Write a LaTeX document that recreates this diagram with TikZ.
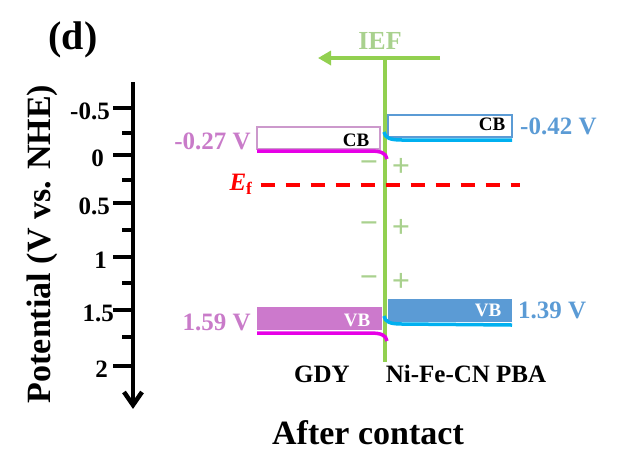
\documentclass[tikz,border=0pt]{standalone}
\usepackage{fontspec}
\setmainfont{Liberation Serif}
\usetikzlibrary{arrows.meta, positioning}
\definecolor{iefGreen}{HTML}{92D050}
\definecolor{iefLight}{HTML}{A9D18E}
\definecolor{gdyText}{HTML}{C97BC9}
\definecolor{gdyFill}{HTML}{CC79CC}
\definecolor{gdyEdge}{HTML}{CC99CC}
\definecolor{gdyLine}{HTML}{E600E6}
\definecolor{pbaBlue}{HTML}{5B9BD5}
\definecolor{pbaLine}{HTML}{00B0F0}
\definecolor{fermiRed}{HTML}{FF0000}
\newcommand{\bfsize}[1]{\fontsize{#1}{#1}\selectfont\bfseries}

\begin{document}
\begin{tikzpicture}[x=1pt, y=-1pt,
    axisline/.style={line width=4.5pt},
    majortick/.style={line width=4pt},
    minortick/.style={line width=4pt},
    ticklab/.style={font=\bfsize{25pt}, inner sep=0pt, anchor=east},
    bandbox/.style={inner sep=0pt, outer sep=0pt, line width=1.2pt, anchor=north west},
    bandtxt/.style={font=\bfsize{19pt}, inner sep=0pt},
    vallab/.style={font=\bfsize{25pt}, inner sep=0pt},
    bendline/.style={line width=3.5pt},
    signlab/.style={font=\bfsize{32pt}, text=iefLight, inner sep=0pt},
    matlab/.style={font=\bfsize{25pt}, inner sep=0pt}
  ]
  \useasboundingbox (0,0) rectangle (617,472);

  % potential axis
  \coordinate (axtop) at (133,82);
  \coordinate (axbot) at (133,405);
  \draw[axisline] (axtop) -- (axbot);
  \draw[axisline, line join=miter] ([shift={(-9,-13)}]axbot) -- (axbot) -- ([shift={(9,-13)}]axbot);
  \foreach \lab/\ty/\lx [count=\i] in {-0.5/108/110, 0/155/104, 0.5/203/110, 1/257/107, 1.5/310/114, 2/366/108} {
    \draw[majortick] (113,\ty) -- (133,\ty);
    \node[ticklab] (tick\i) at (\lx,\ty+3) {\lab};
  }
  \foreach \ty in {133,180,230,283,337}
    \draw[minortick] (122,\ty) -- (133,\ty);
  \node[rotate=90, font=\bfsize{34pt}, inner sep=0pt] (ylab) at (42,244) {Potential (V vs. NHE)};
  \node[font=\bfsize{40pt}, inner sep=0pt] (panel) at (73,40) {(d)};

  % interface and internal field
  \coordinate (iefhead) at (318,58);
  \coordinate (ieftail) at (440,58);
  \coordinate (iefroot) at (385,58);
  \coordinate (iefend) at (385,362);
  \draw[iefGreen, line width=4.5pt] (iefroot) -- (iefend);
  \draw[iefGreen, line width=4.5pt, -{Triangle[length=13pt, width=14pt]}] (ieftail) -- (iefhead);
  \node[font=\bfsize{26pt}, text=iefLight, inner sep=0pt] (ieflab) at (380,41) {IEF};
  \foreach \sy [count=\i] in {167,228,282} {
    \node[signlab] (minus\i) at (369,\sy) {−};
    \node[signlab] (plus\i) at (401,\sy) {+};
  }

  % Fermi level
  \node[font=\bfsize{25pt}, text=fermiRed, inner sep=0pt] (ef) at (241,184) {\textit{E}\textsubscript{f}};
  \coordinate (efend) at (520,185);
  \draw[fermiRed, line width=3.5pt, dash pattern=on 14pt off 11pt] ([xshift=8pt]ef.east |- efend) -- (efend);

  % GDY bands
  \node[bandbox, draw=gdyEdge, fill=white, minimum width=123pt, minimum height=22pt] (gdyCB) at (257,127) {};
  \node[bandtxt] (gdyCBt) at ([xshift=-24pt, yshift=-2pt]gdyCB.east) {CB};
  \node[vallab, text=gdyText, anchor=east] (gdyCBv) at ([xshift=-6pt, yshift=-3pt]gdyCB.west) {-0.27 V};
  \draw[gdyLine, bendline] ([yshift=-2pt]gdyCB.south west) -- (370,151) .. controls (381,151) and (386,153) .. (387,159);
  \node[bandbox, fill=gdyFill, minimum width=125pt, minimum height=23pt] (gdyVB) at (257,307) {};
  \node[bandtxt, text=white] (gdyVBt) at ([xshift=-25pt, yshift=-1.5pt]gdyVB.east) {VB};
  \node[vallab, text=gdyText, anchor=east] (gdyVBv) at ([xshift=-6pt, yshift=-4pt]gdyVB.west) {1.59 V};
  \draw[gdyLine, bendline] ([yshift=-3pt]gdyVB.south west) -- (370,333) .. controls (381,333) and (386,335) .. (387,341);

  % Ni-Fe-CN PBA bands
  \node[bandbox, draw=pbaBlue, fill=white, minimum width=124pt, minimum height=22pt] (pbaCB) at (388,115) {};
  \node[bandtxt] (pbaCBt) at ([xshift=-20pt, yshift=2pt]pbaCB.east) {CB};
  \node[vallab, text=pbaBlue, anchor=west] (pbaCBv) at ([xshift=8pt]pbaCB.east) {-0.42 V};
  \draw[pbaLine, bendline] ([yshift=-3pt]pbaCB.south east) -- (402,140) .. controls (390,140) and (385,138) .. (384,132);
  \node[bandbox, fill=pbaBlue, minimum width=124pt, minimum height=23pt] (pbaVB) at (388,299) {};
  \node[bandtxt, text=white] (pbaVBt) at ([xshift=-24pt]pbaVB.east) {VB};
  \node[vallab, text=pbaBlue, anchor=west] (pbaVBv) at ([xshift=6pt]pbaVB.east) {1.39 V};
  \draw[pbaLine, bendline] ([yshift=-3pt]pbaVB.south east) -- (402,324) .. controls (390,324) and (385,322) .. (384,316);

  % material names
  \node[matlab] (gdy) at (322,374) {GDY};
  \node[matlab] (pba) at (466,374) {Ni-Fe-CN PBA};
  \node[font=\bfsize{34pt}, inner sep=0pt] (caption) at (368,433) {After contact};
\end{tikzpicture}
\end{document}
